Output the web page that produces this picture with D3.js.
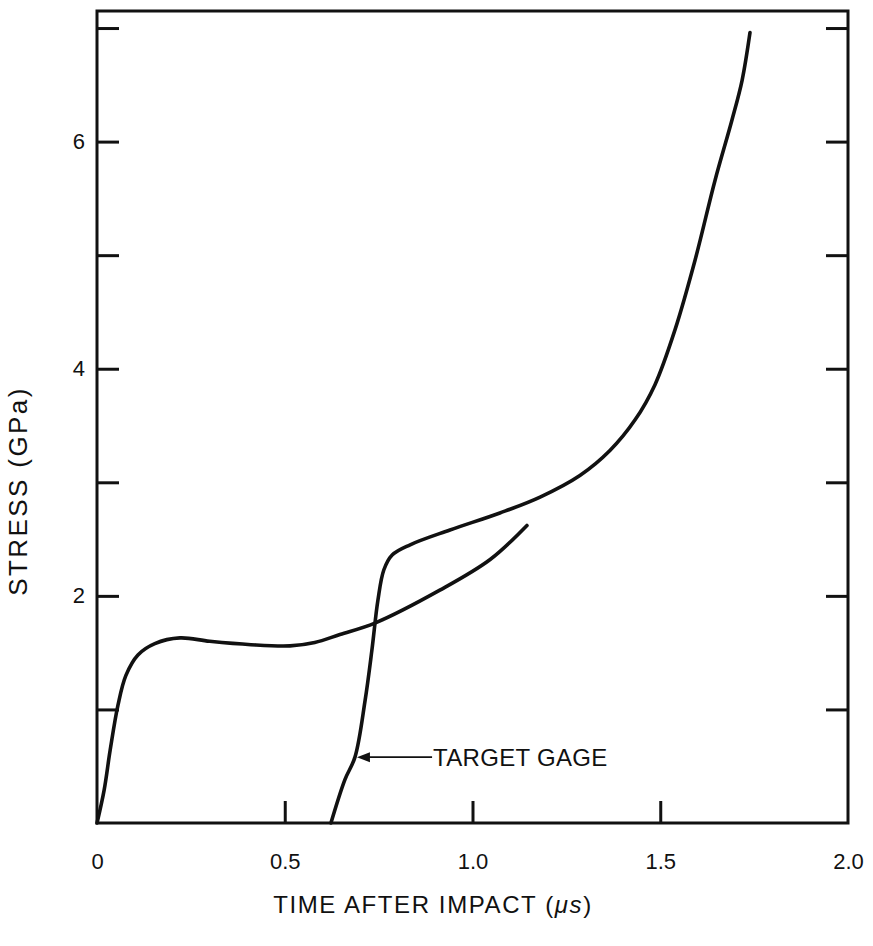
<!DOCTYPE html>
<html><head><meta charset="utf-8">
<script src="https://cdn.jsdelivr.net/npm/d3@7"></script>
<style>
html,body{margin:0;padding:0;background:#fff;}
svg{display:block;}
text{font-family:"Liberation Sans",Arial,Helvetica,sans-serif;fill:#111;}
</style></head>
<body>
<svg id="chart" width="873" height="946"></svg>
<script>
// ---- data ----
const xTicks = [0, 0.5, 1.0, 1.5, 2.0];
const xTickLabels = ["0", "0.5", "1.0", "1.5", "2.0"];
const yTicks = [1, 2, 3, 4, 5, 6, 7];
const yTickLabels = ["", "2", "", "4", "", "6", ""];
const xTitleMain = "TIME AFTER IMPACT (";
const xTitleUnit = "\u03bcs";
const xTitleEnd = ")";
const yTitle = "STRESS (GPa)";

// first curve (starting at impact)
const curve1Time   = [0, 0.019, 0.035, 0.056, 0.077, 0.109, 0.154, 0.221, 0.30, 0.41, 0.514, 0.58, 0.647, 0.74, 0.913, 1.047, 1.145];
const curve1Stress = [0, 0.29, 0.64, 1.04, 1.30, 1.48, 1.58, 1.63, 1.60, 1.57, 1.56, 1.59, 1.66, 1.76, 2.05, 2.32, 2.62];
// target gage curve
const gageTime   = [0.623, 0.660, 0.687, 0.714, 0.732, 0.748, 0.764, 0.786, 0.834, 0.940, 1.073, 1.180, 1.286, 1.366, 1.433, 1.486, 1.539, 1.593, 1.646, 1.691, 1.718, 1.739];
const gageStress = [0, 0.38, 0.58, 1.08, 1.52, 1.96, 2.23, 2.36, 2.45, 2.58, 2.73, 2.87, 3.06, 3.28, 3.55, 3.86, 4.34, 4.96, 5.66, 6.19, 6.54, 6.96];

const annotText = "TARGET GAGE";
const annotPoint = [0.687, 0.58];
const annotTextTime = 0.895;

// ---- drawing ----
const svg = d3.select("#chart");
const x = d3.scaleLinear().domain([0, 2]).range([97, 848]);
const y = d3.scaleLinear().domain([0, 7.15]).range([823, 11]);

const g = svg.append("g");
const tickLen = 22;
const ink = "#111";

// frame
g.append("rect")
  .attr("x", x(0)).attr("y", y(7.15))
  .attr("width", x(2) - x(0)).attr("height", y(0) - y(7.15))
  .attr("fill", "none").attr("stroke", ink).attr("stroke-width", 3);

// bottom axis (ticks inward)
const xAxis = d3.axisBottom(x).tickValues(xTicks)
  .tickFormat((d, i) => xTickLabels[i]).tickSizeInner(-tickLen).tickSizeOuter(0).tickPadding(30);
const gx = g.append("g").attr("transform", `translate(0,${y(0)})`).call(xAxis);
gx.select(".domain").remove();
gx.selectAll(".tick line").attr("stroke", ink).attr("stroke-width", 3)
  .filter(d => d === 0 || d === 2).remove();
gx.selectAll(".tick text").attr("font-size", 22).attr("fill", ink).attr("font-family", "Liberation Sans, Arial, sans-serif");

// left axis
const yAxisL = d3.axisLeft(y).tickValues(yTicks)
  .tickFormat((d, i) => yTickLabels[i]).tickSizeInner(-tickLen).tickSizeOuter(0).tickPadding(12);
const gyl = g.append("g").attr("transform", `translate(${x(0)},0)`).call(yAxisL);
gyl.select(".domain").remove();
gyl.selectAll(".tick line").attr("stroke", ink).attr("stroke-width", 3);
gyl.selectAll(".tick text").attr("font-size", 22).attr("fill", ink).attr("font-family", "Liberation Sans, Arial, sans-serif");

// right axis
const yAxisR = d3.axisRight(y).tickValues(yTicks).tickFormat("").tickSizeInner(-tickLen).tickSizeOuter(0);
const gyr = g.append("g").attr("transform", `translate(${x(2)},0)`).call(yAxisR);
gyr.select(".domain").remove();
gyr.selectAll(".tick line").attr("stroke", ink).attr("stroke-width", 3);

// curves
const line = d3.line().x(d => x(d[0])).y(d => y(d[1])).curve(d3.curveCatmullRom.alpha(0.5));
const c1 = curve1Time.map((t, i) => [t, curve1Stress[i]]);
const c2 = gageTime.map((t, i) => [t, gageStress[i]]);
g.append("path").datum(c1).attr("d", line)
  .attr("fill", "none").attr("stroke", ink).attr("stroke-width", 3.6).attr("stroke-linecap", "round");
g.append("path").datum(c2).attr("d", line)
  .attr("fill", "none").attr("stroke", ink).attr("stroke-width", 3.6).attr("stroke-linecap", "round");

// annotation
const ax0 = x(annotPoint[0]) + 2, ay = y(annotPoint[1]);
const ax1 = x(annotTextTime) - 1;
g.append("line").attr("x1", ax0 + 10).attr("y1", ay).attr("x2", ax1).attr("y2", ay)
  .attr("stroke", ink).attr("stroke-width", 1.6);
g.append("path")
  .attr("d", `M${ax0},${ay} L${ax0 + 13},${ay - 5} L${ax0 + 13},${ay + 5} Z`)
  .attr("fill", ink);
g.append("text").attr("x", x(annotTextTime)).attr("y", ay + 8.5)
  .attr("font-size", 24).attr("letter-spacing", 0.3).text(annotText);

// axis titles
const xt = g.append("text").attr("x", 433).attr("y", 913)
  .attr("text-anchor", "middle").attr("font-size", 24).attr("letter-spacing", 1.6);
xt.append("tspan").text(xTitleMain);
xt.append("tspan").attr("font-style", "italic").text(xTitleUnit);
xt.append("tspan").text(xTitleEnd);

g.append("text").attr("transform", `translate(27,491) rotate(-90)`)
  .attr("text-anchor", "middle").attr("font-size", 26).attr("letter-spacing", 2.4).text(yTitle);
</script>
</body></html>
